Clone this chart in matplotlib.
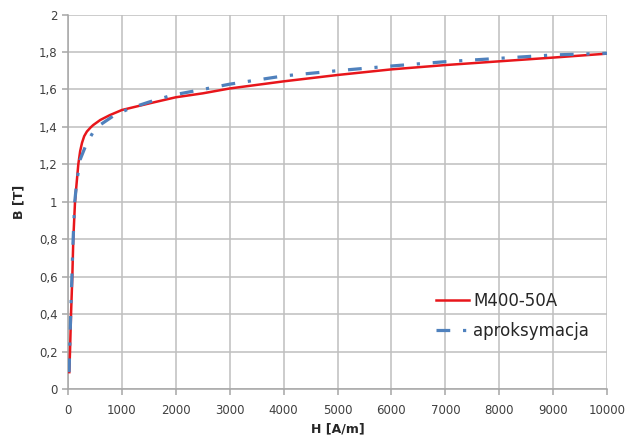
import matplotlib
matplotlib.use("Agg")
import matplotlib.pyplot as plt

h_meas = [24, 37, 56, 80, 98, 130, 160, 191, 225, 260, 300, 350, 420, 469, 600, 778,
          1000, 1519, 2000, 2500, 3000, 4000, 5000, 6000, 7000, 8000, 9000, 10000]
b_meas = [0.09, 0.2, 0.4, 0.6, 0.8, 1.0, 1.1, 1.2, 1.27, 1.315, 1.35, 1.375, 1.397, 1.41,
          1.437, 1.463, 1.49, 1.526, 1.558, 1.579, 1.605, 1.643, 1.677, 1.707, 1.730,
          1.750, 1.770, 1.791]

# Approximation
h_appr = [20, 30, 50, 72, 95, 125, 160, 222, 333, 469, 593, 839, 1148, 1519,
          1944, 2500, 3000, 4000, 5000, 6000, 7000, 8000, 9000, 10000]
b_appr = [0.09, 0.2, 0.4, 0.6, 0.8, 1.0, 1.1, 1.223, 1.303, 1.374, 1.41, 1.458, 1.499,
          1.534, 1.57, 1.60, 1.628, 1.672, 1.70, 1.725, 1.748, 1.766, 1.784, 1.793]

x_ticks = list(range(0, 10001, 1000))
y_ticks = [0, 0.2, 0.4, 0.6, 0.8, 1.0, 1.2, 1.4, 1.6, 1.8, 2.0]
y_labels = ["0", "0,2", "0,4", "0,6", "0,8", "1", "1,2", "1,4", "1,6", "1,8", "2"]

fig = plt.figure(figsize=(6.28, 4.41), dpi=100)
ax = fig.add_axes([0.1083, 0.1179, 0.8583, 0.8492])

ax.plot(h_meas, b_meas, color="#e8161b", lw=1.8, label="M400-50A", zorder=3)
ax.plot(h_appr, b_appr, color="#4f81bd", lw=2.3, ls=(0, (4.3, 4, 1, 4)),
        label="aproksymacja", zorder=4)

ax.set_xlim(0, 10000)
ax.set_ylim(0, 2)
ax.set_xticks(x_ticks)
ax.set_yticks(y_ticks)
ax.set_yticklabels(y_labels)
ax.grid(color="#bfbfbf", lw=1.1)
ax.set_axisbelow(True)
for s in ("top", "right"):
    ax.spines[s].set_visible(False)
for s in ("left", "bottom"):
    ax.spines[s].set_color("#a6a6a6")
    ax.spines[s].set_linewidth(1.1)
ax.tick_params(colors="#a6a6a6", labelcolor="#404040", labelsize=8.5, length=4, width=1.1)
ax.tick_params(axis="x", pad=7)

ax.set_xlabel("H [A/m]", fontsize=9, fontweight="bold", color="#262626", labelpad=4)
ax.set_ylabel("B [T]", fontsize=9, fontweight="bold", color="#262626", labelpad=10)

leg = ax.legend(loc="lower right", bbox_to_anchor=(0.995, 0.09), frameon=False,
                fontsize=12, handlelength=2.0, handletextpad=0.25, labelspacing=0.75)
for t in leg.get_texts():
    t.set_color("#262626")

fig.savefig("out.png", dpi=100)
